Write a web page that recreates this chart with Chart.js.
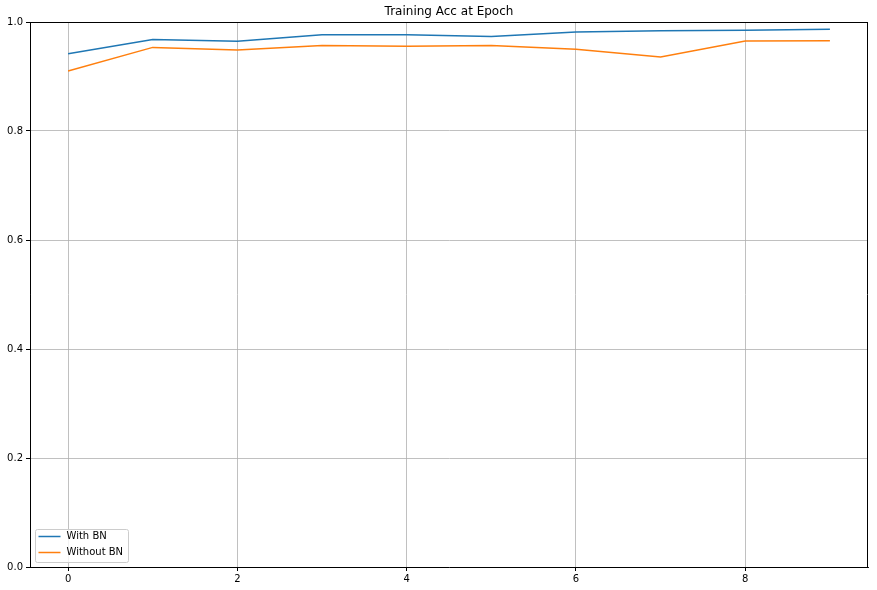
<!DOCTYPE html>
<html><head><meta charset="utf-8">
<script src="https://cdn.jsdelivr.net/npm/chart.js@4/dist/chart.umd.min.js"></script>
<style>html,body{margin:0;padding:0;background:#fff}#wrap{width:877px;height:590px}</style>
</head><body><div id="wrap"><canvas id="c" width="877" height="590"></canvas></div>
<script>
const epochs = [0,1,2,3,4,5,6,7,8,9];
const withBN = [0.9417,0.968,0.9645,0.9767,0.9767,0.9736,0.9816,0.984,0.9847,0.9865];
const withoutBN = [0.910,0.9534,0.9485,0.957,0.9553,0.957,0.9498,0.936,0.965,0.9656];
const xTicks = [0,2,4,6,8];
const yTicks = [0,0.2,0.4,0.6,0.8,1.0];
const seriesLabels = ['With BN','Without BN'];
const titleText = 'Training Acc at Epoch';

const FONT = 'DejaVu Sans';
const boxPlugin = {
  id:'box',
  afterDatasetsDraw(chart){
    const {ctx, chartArea:a} = chart;
    const L = Math.round(a.left), T = Math.round(a.top), R = Math.round(a.right), B = Math.round(a.bottom);
    ctx.save();
    ctx.strokeStyle='#000'; ctx.lineWidth=1;
    ctx.beginPath();
    ctx.moveTo(L, T+0.5); ctx.lineTo(R, T+0.5);
    ctx.moveTo(R-0.5, T); ctx.lineTo(R-0.5, B);
    ctx.stroke();
    ctx.restore();
  }
};
const legendPlugin = {
  id:'mplLegend',
  afterDraw(chart){
    const {ctx, chartArea:a} = chart;
    const x0 = a.left+5.5, h = 33, w = 93;
    const y0 = a.bottom-4.5-h;
    ctx.save();
    ctx.beginPath();
    if (ctx.roundRect) ctx.roundRect(x0,y0,w,h,2); else ctx.rect(x0,y0,w,h);
    ctx.fillStyle='rgba(255,255,255,0.8)'; ctx.fill();
    ctx.strokeStyle='#cccccc'; ctx.lineWidth=1; ctx.stroke();
    ctx.font = '10px "'+FONT+'"';
    ctx.textBaseline='middle'; ctx.fillStyle='#000';
    chart.data.datasets.forEach((ds,i)=>{
      const yy = y0+7+i*16;
      ctx.strokeStyle=ds.borderColor; ctx.lineWidth=1.5;
      ctx.beginPath(); ctx.moveTo(x0+3,yy); ctx.lineTo(x0+25,yy); ctx.stroke();
      ctx.fillText(ds.label, x0+31, yy);
    });
    ctx.restore();
  }
};

new Chart(document.getElementById('c'), {
  type:'line',
  data:{
    datasets:[
      {label:seriesLabels[0], data:epochs.map((e,i)=>({x:e,y:withBN[i]})), borderColor:'#1f77b4', borderWidth:1.5, pointRadius:0, fill:false, tension:0},
      {label:seriesLabels[1], data:epochs.map((e,i)=>({x:e,y:withoutBN[i]})), borderColor:'#ff7f0e', borderWidth:1.5, pointRadius:0, fill:false, tension:0}
    ]
  },
  options:{
    responsive:false, animation:false,
    layout:{padding:{left:0,right:9,top:0,bottom:0}},
    plugins:{
      legend:{display:false},
      tooltip:{enabled:false},
      title:{display:true, text:titleText, fullSize:false, color:'#000', font:{family:FONT,size:12,weight:'normal'}, padding:{top:5,bottom:2.6}}
    },
    scales:{
      x:{type:'linear', min:-0.45, max:9.45,
        afterBuildTicks:s=>{s.ticks=xTicks.map(v=>({value:v}));},
        afterFit:s=>{s.height=23;},
        ticks:{color:'#000', font:{family:FONT,size:10}, padding:2, maxRotation:0, callback:v=>String(v)},
        grid:{color:'#b0b0b0', lineWidth:0.8, tickColor:'#000', tickLength:4, tickWidth:1},
        border:{display:true,color:'#000',width:1}
      },
      y:{type:'linear', min:0, max:1,
        afterBuildTicks:s=>{s.ticks=yTicks.map(v=>({value:v}));},
        afterFit:s=>{s.width=30;},
        ticks:{color:'#000', font:{family:FONT,size:10}, padding:3, callback:v=>Number(v).toFixed(1)},
        grid:{color:'#b0b0b0', lineWidth:0.8, tickColor:'#000', tickLength:4, tickWidth:1},
        border:{display:true,color:'#000',width:1}
      }
    }
  },
  plugins:[boxPlugin, legendPlugin]
});
</script></body></html>
